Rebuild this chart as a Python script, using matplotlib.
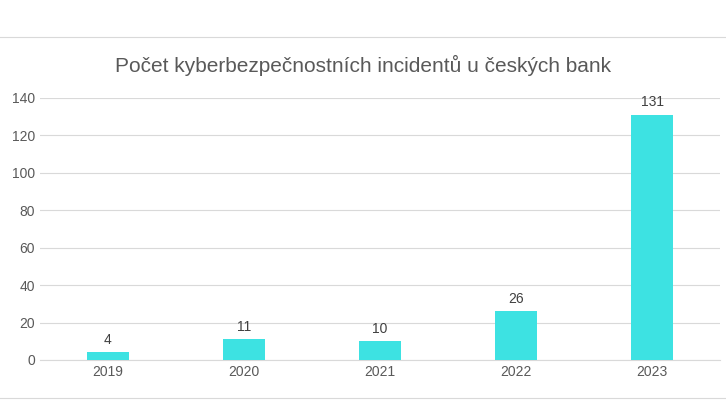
import matplotlib
matplotlib.use("Agg")
import matplotlib.pyplot as plt
from matplotlib.lines import Line2D

years = ["2019", "2020", "2021", "2022", "2023"]
values = [4, 11, 10, 26, 131]

plt.rcParams['font.family'] = ['Liberation Sans', 'DejaVu Sans']
fig = plt.figure(figsize=(7.26, 4.2), dpi=100)
ax = fig.add_axes([0.055, 0.143, 0.937, 0.624])
x = range(len(years))
ax.bar(x, values, width=0.31, color="#3DE2E2", zorder=3)
for i, v in zip(x, values):
    ax.text(i, v + 3, str(v), ha="center", va="bottom", fontsize=10, color="#404040")
ax.set_ylim(0, 140)
ax.set_yticks(range(0, 141, 20))
ax.set_xlim(-0.5, len(years) - 0.5)
ax.set_xticks(list(x))
ax.set_xticklabels(years)
ax.grid(axis="y", color="#d9d9d9", linewidth=0.8, zorder=0)
for s in ["top", "right", "left"]:
    ax.spines[s].set_visible(False)
ax.spines["bottom"].set_color("#d9d9d9")
ax.tick_params(length=0, labelsize=10, colors="#595959")
fig.text(0.5, 0.845, "Počet kyberbezpečnostních incidentů u českých bank",
         ha="center", va="center", fontsize=15, color="#595959")
fig.add_artist(Line2D([0, 1], [1 - 37/420] * 2, color="#d9d9d9", linewidth=0.8))
fig.add_artist(Line2D([0, 1], [1 - 398/420] * 2, color="#d9d9d9", linewidth=0.8))
fig.savefig("out.png", dpi=100)
